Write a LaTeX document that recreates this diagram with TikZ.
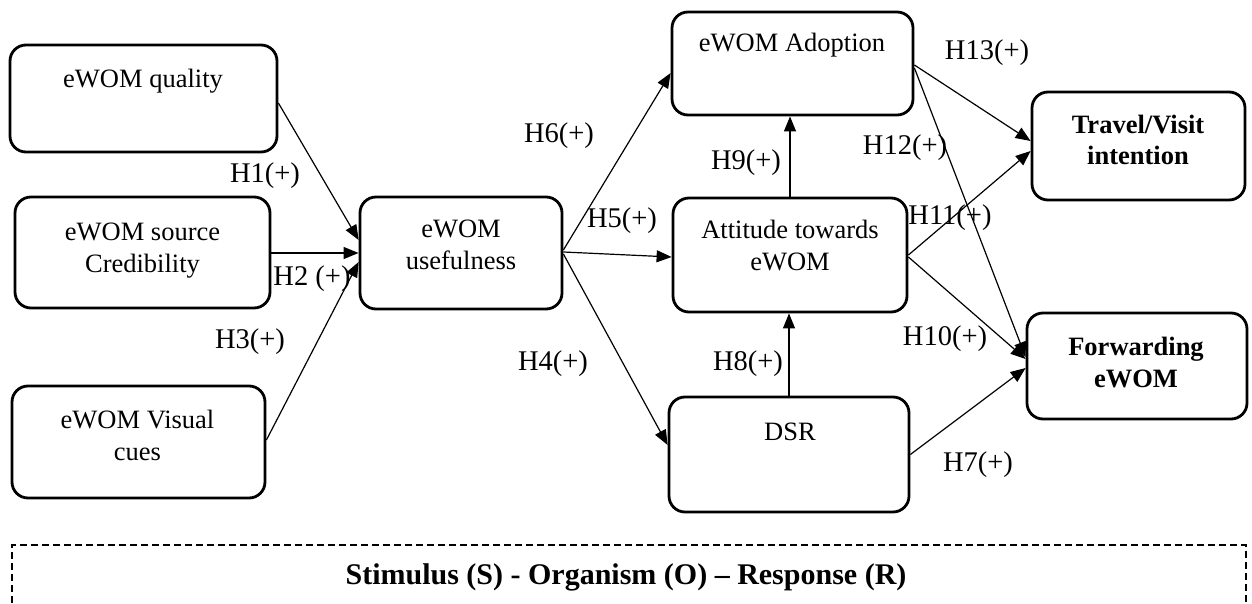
\documentclass[tikz,border=0pt]{standalone}
\usepackage{fontspec}
\setmainfont{Liberation Serif}
\usetikzlibrary{arrows.meta}
\begin{document}
\begin{tikzpicture}[x=1pt,y=-1pt,
  box/.style={draw, line width=2.8pt, rounded corners=16pt, inner sep=0pt},
  txt/.style={font=\fontsize{26.5}{32}\selectfont, align=center, inner sep=0pt},
  btxt/.style={font=\bfseries\fontsize{26.5}{32}\selectfont, align=center, inner sep=0pt},
  lab/.style={font=\fontsize{28.5}{34}\selectfont, inner sep=0pt},
  arr/.style={line width=1.2pt, -{Triangle[length=15pt,width=12pt]}},
  frame/.style={draw, line width=2.4pt, dash pattern=on 7pt off 4pt}]
\useasboundingbox (0,0) rectangle (1252,604);
\clip (0,0) rectangle (1252,604);

% boxes
\node[box, minimum width=267pt, minimum height=107pt] (q) at (143.5,98.5) {};
\node[box, minimum width=255pt, minimum height=111pt] (c) at (142.5,252.5) {};
\node[box, minimum width=253pt, minimum height=112pt] (v) at (138.5,442) {};
\node[box, minimum width=202pt, minimum height=112pt] (u) at (461,253) {};
\node[box, minimum width=241pt, minimum height=103pt] (a) at (792.5,63.5) {};
\node[box, minimum width=234pt, minimum height=114pt] (t) at (790,255) {};
\node[box, minimum width=240pt, minimum height=115pt] (d) at (789,454.5) {};
\node[box, minimum width=213pt, minimum height=108pt] (tv) at (1138.5,146) {};
\node[box, minimum width=220pt, minimum height=106pt] (f) at (1137,366) {};

% box texts
\node[txt] (qt) at (143,81.6) {\strut eWOM quality};
\node[txt] (ct) at (142.5,249.6) {\strut eWOM source\\\strut Credibility};
\node[txt] (vt) at (137.5,437.6) {\strut eWOM Visual\\\strut cues};
\node[txt] (ut) at (461,246.6) {\strut eWOM\\\strut usefulness};
\node[txt] (at) at (792,45.6) {\strut eWOM Adoption};
\node[txt] (tt) at (790,247.6) {\strut Attitude towards\\\strut eWOM};
\node[txt] (dt) at (790,433.6) {\strut DSR};
\node[btxt] (tvt) at (1138,142.6) {\strut Travel/Visit\\\strut intention};
\node[btxt] (ft) at (1136,364.6) {\strut Forwarding\\\strut eWOM};

% connectors
\draw[arr] ([yshift=-4.5pt]q.east) -- ([yshift=13pt]u.west);
\draw[arr] (c.east |- u.west) -- (u.west);
\draw[arr] ([yshift=2pt]v.east) -- ([yshift=-9pt]u.west);
\draw[arr] ([yshift=3pt]u.east) -- ([yshift=-9.5pt]a.west);
\draw[arr] ([yshift=1pt]u.east) -- ([yshift=-2pt]t.west);
\draw[arr] ([yshift=-1pt]u.east) -- ([yshift=9.5pt]d.west);
\draw[arr] (t.north) -- (t.north |- a.south);
\draw[arr] (d.north) -- (d.north |- t.south);
\draw[arr] ([yshift=-1.5pt]a.east) -- ([yshift=5pt]tv.west);
\draw[arr] ([yshift=-4.5pt]a.east) -- ([yshift=9pt]f.west);
\draw[arr] (t.east) -- ([yshift=-5pt]tv.west);
\draw[arr] ([yshift=-2pt]t.east) -- ([yshift=7pt]f.west);
\draw[arr] (d.east) -- ([yshift=-2pt]f.west);

% hypothesis labels
\node[lab] (h1) at (265,176) {H1(+)};
\node[lab] (h2) at (312,279) {H2 (+)};
\node[lab] (h3) at (250,342) {H3(+)};
\node[lab] (h6) at (559,136) {H6(+)};
\node[lab] (h5) at (622,221) {H5(+)};
\node[lab] (h4) at (553,364) {H4(+)};
\node[lab] (h9) at (746,163) {H9(+)};
\node[lab] (h8) at (748,364) {H8(+)};
\node[lab] (h12) at (905,148) {H12(+)};
\node[lab] (h13) at (987,53) {H13(+)};
\node[lab] (h11) at (950,218) {H11(+)};
\node[lab] (h10) at (945,339) {H10(+)};
\node[lab] (h7) at (978,465) {H7(+)};

% S-O-R frame
\draw[frame] (12,625) -- (12,545) -- (1246,545) -- (1246,625);
\node[font=\bfseries\fontsize{30}{36}\selectfont, inner sep=0pt] (sor) at (626,576.8) {\strut Stimulus (S) - Organism (O) – Response (R)};
\end{tikzpicture}
\end{document}
